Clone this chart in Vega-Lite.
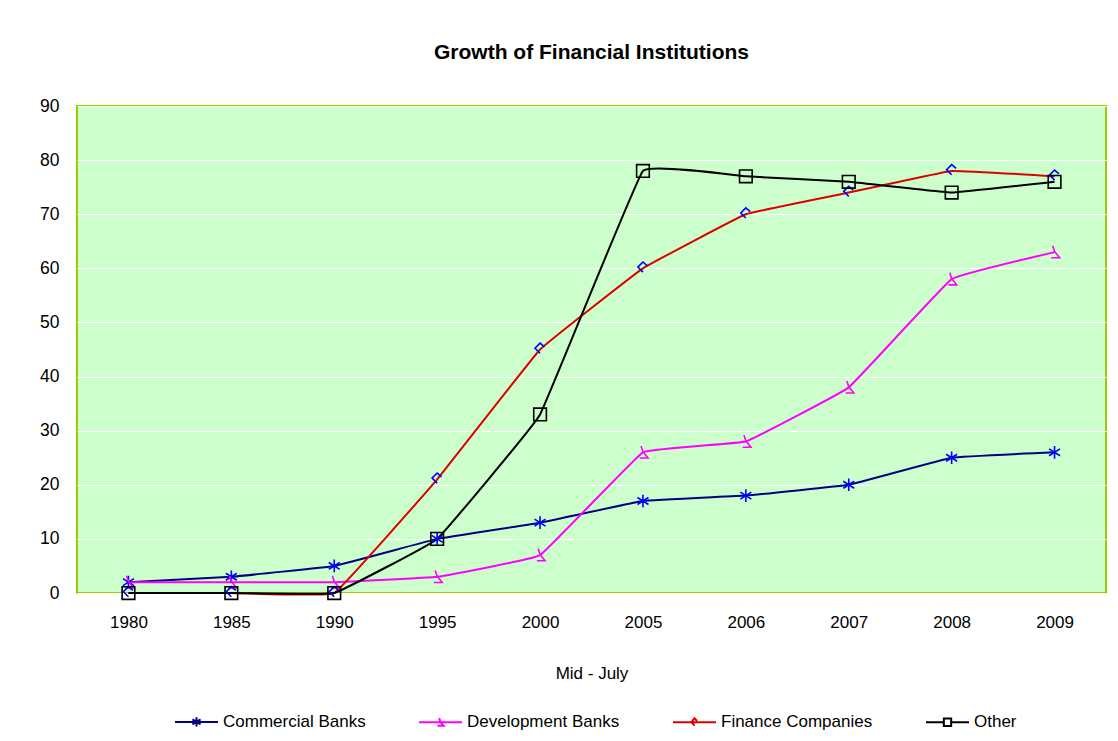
{
  "$schema": "https://vega.github.io/schema/vega-lite/v6.json",
  "autosize": "none",
  "width": 1029,
  "height": 487,
  "padding": {"left": 77, "top": 106, "right": 12, "bottom": 148},
  "background": "white",
  "config": {
    "font": "Liberation Sans",
    "view": {"fill": "#CCFFCC", "stroke": "#99CC00", "strokeWidth": 2}
  },
  "title": {
    "text": "Growth of Financial Institutions",
    "font": "Liberation Sans",
    "fontSize": 21,
    "fontWeight": "bold",
    "color": "#000000",
    "anchor": "middle",
    "offset": 34
  },
  "data": {
    "values": [
      {"year": "1980", "series": "Commercial Banks", "value": 2},
      {"year": "1985", "series": "Commercial Banks", "value": 3},
      {"year": "1990", "series": "Commercial Banks", "value": 5},
      {"year": "1995", "series": "Commercial Banks", "value": 10},
      {"year": "2000", "series": "Commercial Banks", "value": 13},
      {"year": "2005", "series": "Commercial Banks", "value": 17},
      {"year": "2006", "series": "Commercial Banks", "value": 18},
      {"year": "2007", "series": "Commercial Banks", "value": 20},
      {"year": "2008", "series": "Commercial Banks", "value": 25},
      {"year": "2009", "series": "Commercial Banks", "value": 26},
      {"year": "1980", "series": "Development Banks", "value": 2},
      {"year": "1985", "series": "Development Banks", "value": 2},
      {"year": "1990", "series": "Development Banks", "value": 2},
      {"year": "1995", "series": "Development Banks", "value": 3},
      {"year": "2000", "series": "Development Banks", "value": 7},
      {"year": "2005", "series": "Development Banks", "value": 26},
      {"year": "2006", "series": "Development Banks", "value": 28},
      {"year": "2007", "series": "Development Banks", "value": 38},
      {"year": "2008", "series": "Development Banks", "value": 58},
      {"year": "2009", "series": "Development Banks", "value": 63},
      {"year": "1980", "series": "Finance Companies", "value": 0},
      {"year": "1985", "series": "Finance Companies", "value": 0},
      {"year": "1990", "series": "Finance Companies", "value": 0},
      {"year": "1995", "series": "Finance Companies", "value": 21},
      {"year": "2000", "series": "Finance Companies", "value": 45},
      {"year": "2005", "series": "Finance Companies", "value": 60},
      {"year": "2006", "series": "Finance Companies", "value": 70},
      {"year": "2007", "series": "Finance Companies", "value": 74},
      {"year": "2008", "series": "Finance Companies", "value": 78},
      {"year": "2009", "series": "Finance Companies", "value": 77},
      {"year": "1980", "series": "Other", "value": 0},
      {"year": "1985", "series": "Other", "value": 0},
      {"year": "1990", "series": "Other", "value": 0},
      {"year": "1995", "series": "Other", "value": 10},
      {"year": "2000", "series": "Other", "value": 33},
      {"year": "2005", "series": "Other", "value": 78},
      {"year": "2006", "series": "Other", "value": 77},
      {"year": "2007", "series": "Other", "value": 76},
      {"year": "2008", "series": "Other", "value": 74},
      {"year": "2009", "series": "Other", "value": 76}
    ]
  },
  "encoding": {
    "x": {
      "field": "year",
      "type": "ordinal",
      "scale": {"type": "point", "padding": 0.5},
      "axis": {
        "title": "Mid - July",
        "labelAngle": 0,
        "labelFontSize": 17,
        "labelColor": "#000000",
        "labelPadding": 21,
        "ticks": false,
        "domain": false,
        "grid": false,
        "titleFontSize": 17,
        "titleFontWeight": "normal",
        "titleColor": "#000000",
        "titlePadding": 35
      }
    },
    "y": {
      "field": "value",
      "type": "quantitative",
      "scale": {"domain": [0, 90], "nice": false},
      "axis": {
        "title": null,
        "values": [0, 10, 20, 30, 40, 50, 60, 70, 80, 90],
        "labelFontSize": 17.5,
        "labelColor": "#000000",
        "labelPadding": 18,
        "ticks": false,
        "domain": false,
        "grid": true,
        "gridColor": "#FFFFFF",
        "gridWidth": 1.2,
        "gridOpacity": 1
      }
    }
  },
  "layer": [
    {
      "mark": {"type": "line", "strokeWidth": 2, "interpolate": "cardinal", "tension": 0.8},
      "encoding": {
        "color": {
          "field": "series",
          "type": "nominal",
          "scale": {
            "domain": ["Commercial Banks", "Development Banks", "Finance Companies", "Other"],
            "range": ["#000080", "#FF00FF", "#DD0000", "#000000"]
          },
          "legend": {
            "title": null,
            "orient": "none",
            "direction": "horizontal",
            "legendX": 97,
            "legendY": 593,
            "symbolSize": 1849,
            "symbolStrokeWidth": 2,
            "labelFontSize": 17,
            "labelColor": "#000000",
            "labelOffset": 4,
            "labelLimit": 400,
            "columnPadding": 49,
            "encode": {
              "symbols": {
                "update": {
                  "shape": {"signal": "datum.value == 'Commercial Banks' ? 'M-1,0H1M0,-0.22V0.22M-0.19,-0.12L0.19,0.12M-0.19,0.12L0.19,-0.12' : datum.value == 'Development Banks' ? 'M-1,0H1M-0.06,-0.2L0,0L0.14,0.16H-0.14' : datum.value == 'Finance Companies' ? 'M-1,0H1M0.12,-0.06L0,-0.18L-0.14,0L0,0.16' : 'M-1,0H-0.17M0.17,0H1M-0.17,-0.17H0.17V0.17H-0.17Z'"},
                  "fill": {"value": "transparent"}
                }
              }
            }
          }
        }
      }
    },
    {
      "transform": [{"filter": "datum.series == 'Commercial Banks'"}],
      "mark": {"type": "point", "filled": false, "strokeWidth": 1.6, "size": 160, "opacity": 1, "color": "#0000FF", "shape": "M0,-1V1M-0.87,-0.55L0.87,0.55M-0.87,0.55L0.87,-0.55"}
    },
    {
      "transform": [{"filter": "datum.series == 'Development Banks'"}],
      "mark": {"type": "point", "filled": false, "strokeWidth": 1.6, "size": 160, "opacity": 1, "color": "#FF00FF", "shape": "M-0.3,-1L0,-0.1L0.8,0.9H-0.5"}
    },
    {
      "transform": [{"filter": "datum.series == 'Finance Companies'"}],
      "mark": {"type": "point", "filled": false, "strokeWidth": 1.6, "size": 160, "opacity": 1, "color": "#0000FF", "shape": "M0.7,-0.4L0,-1L-0.8,-0.2L0,0.6"}
    },
    {
      "transform": [{"filter": "datum.series == 'Other'"}],
      "mark": {"type": "point", "filled": false, "strokeWidth": 1.6, "size": 160, "opacity": 1, "color": "#000000", "shape": "M-1,-1H1V1H-1Z"}
    }
  ]
}
